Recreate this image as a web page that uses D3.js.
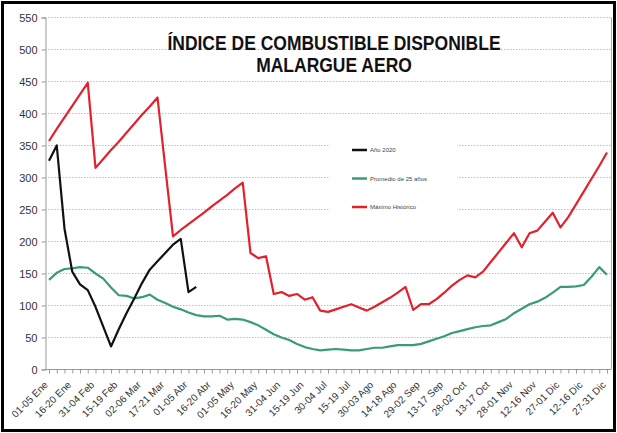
<!DOCTYPE html>
<html><head><meta charset="utf-8">
<script src="https://cdn.jsdelivr.net/npm/d3@7/dist/d3.min.js"></script>
<style>
body{margin:0;background:#fff;}
svg{display:block;font-family:"Liberation Sans",Arial,sans-serif;}
</style></head><body>
<svg id="c" width="617" height="433"></svg>
<script>
const tickLabels = ["01-05 Ene","16-20 Ene","31-04 Feb","15-19 Feb","02-06 Mar","17-21 Mar","01-05 Abr","16-20 Abr","01-05 May","16-20 May","31-04 Jun","15-19 Jun","30-04 Jul","15-19 Jul","30-03 Ago","14-18 Ago","29-02 Sep","13-17 Sep","28-02 Oct","13-17 Oct","28-01 Nov","12-16 Nov","27-01 Dic","12-16 Dic","27-31 Dic"];
const categories = d3.range(73); // 73 five-day periods
const yTicks = [0,50,100,150,200,250,300,350,400,450,500,550];
const seriesNames = ["Año 2020","Promedio de 25 años","Máximo Histórico"];
const anio2020 = [326,350,220,153,133,124,98,67,36,63,88,111,135,156,169,182,195,204,121,129];
const promedio = [140,151,157,158,160,159,150,142,128,116,115,111,113,117,109,104,98,94,89,85,83,83,84,78,79,78,74,69,62,55,50,46,40,35,32,30,31,32,31,30,30,32,34,34,36,38,38,38,40,44,48,52,57,60,63,66,68,69,74,79,88,95,102,106,112,120,129,129,130,132,145,160,148];
const maximo = [357,376,394,412,430,448,315,329,343,356,370,384,398,411,425,316,208,218,227,236,245,255,264,273,283,292,182,174,177,118,121,115,118,109,113,92,90,94,98,102,97,92,98,105,112,120,129,93,102,102,110,120,131,140,147,144,153,168,183,198,213,191,213,217,231,245,222,238,258,278,298,318,339];
const colors = ["#111111","#3a9a7a","#e3212c"];

const svg = d3.select("#c");
svg.append("rect").attr("x",2.5).attr("y",2.5).attr("width",612).attr("height",428)
  .attr("fill","#fff").attr("stroke","#000").attr("stroke-width",3);

const x = d3.scalePoint().domain(categories).range([49,607]);
const y = d3.scaleLinear().domain([0,550]).range([369.5,17.5]);

// gridlines
svg.append("g").selectAll("line").data(yTicks.filter(d=>d>0)).join("line")
  .attr("x1",45).attr("x2",611).attr("y1",d=>y(d)).attr("y2",d=>y(d))
  .attr("stroke","#bdbdbd").attr("stroke-width",1).attr("stroke-dasharray","1.5,1.5");
// plot right border
svg.append("line").attr("x1",611.5).attr("x2",611.5).attr("y1",y(550)).attr("y2",y(0))
  .attr("stroke","#aaa");

// y axis
const ya = svg.append("g").attr("transform","translate(45.5,0)")
  .call(d3.axisLeft(y).tickValues(yTicks).tickSize(4).tickPadding(4));
ya.select(".domain").attr("stroke","#999");
ya.selectAll(".tick line").attr("stroke","#999");
ya.selectAll("text").attr("font-size",11).attr("fill","#333").attr("font-family","Liberation Sans, Arial, sans-serif");

// x axis
const xa = svg.append("g").attr("transform",`translate(0,${y(0)})`)
  .call(d3.axisBottom(x).tickValues(categories).tickSize(4)
    .tickFormat(i => i%3===0 ? tickLabels[i/3] : ""));
xa.select(".domain").attr("stroke","#999").attr("d","M45,0H611");
xa.selectAll(".tick line").attr("stroke","#999");
xa.selectAll("text").attr("font-size",10).attr("fill","#333")
  .attr("font-family","Liberation Sans, Arial, sans-serif")
  .attr("text-anchor","end").attr("dy",0).attr("y",0)
  .attr("transform","translate(-1,16) rotate(-45)");

// title
const tg = svg.append("g").attr("transform","translate(334,0) scale(1,1.12)");
tg.append("text").attr("x",0).attr("y",44.5).attr("text-anchor","middle")
  .attr("font-size",17.5).attr("font-weight","bold").attr("fill","#111").text("ÍNDICE DE COMBUSTIBLE DISPONIBLE");
tg.append("text").attr("x",0).attr("y",64).attr("text-anchor","middle")
  .attr("font-size",17.5).attr("font-weight","bold").attr("fill","#111").text("MALARGUE AERO");

// legend
const lg = svg.append("g");
lg.append("rect").attr("x",330).attr("y",136).attr("width",127).attr("height",84).attr("fill","#fff");
[0,1,2].forEach(k=>{
  const yy = 150 + k*28.5;
  lg.append("line").attr("x1",352).attr("x2",367).attr("y1",yy).attr("y2",yy)
    .attr("stroke",colors[k]).attr("stroke-width",2.5);
  lg.append("text").attr("x",370).attr("y",yy+2).attr("font-size",6).attr("fill","#444").text(seriesNames[k]);
});

// lines
const line = d3.line().x((d,i)=>x(i)).y(d=>y(d));
[[promedio,1],[maximo,2],[anio2020,0]].forEach(([data,k])=>{
  svg.append("path").datum(data).attr("d",line).attr("fill","none")
    .attr("stroke",colors[k]).attr("stroke-width",2.2).attr("stroke-linejoin","round");
});
</script></body></html>
